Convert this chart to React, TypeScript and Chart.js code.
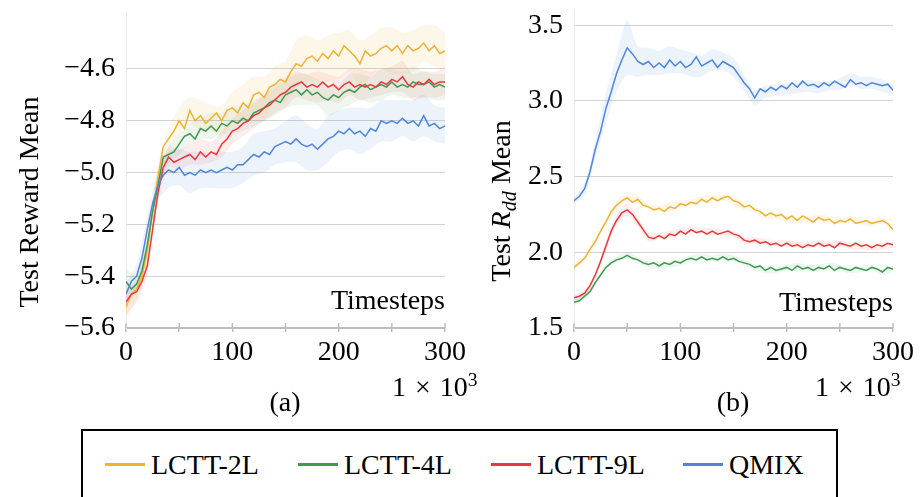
import React, { useEffect, useRef } from 'react';
import { Chart, registerables } from 'chart.js';
Chart.register(...registerables);

const FONT = "'Liberation Serif', 'Times New Roman', Times, serif";

const seriesNames = ['LCTT-2L', 'LCTT-4L', 'LCTT-9L', 'QMIX'];
const seriesColors = ['#F0B232', '#3E9A50', '#E63A3A', '#4F86DC'];
const bandColors = ['rgba(240,178,50,0.10)', 'rgba(62,154,80,0.09)', 'rgba(230,58,58,0.09)', 'rgba(79,134,220,0.10)'];

const timesteps = [0,5,10,15,20,25,30,35,40,45,50,55,60,65,70,75,80,85,90,95,100,105,110,115,120,125,130,135,140,145,150,155,160,165,170,175,180,185,190,195,200,205,210,215,220,225,230,235,240,245,250,255,260,265,270,275,280,285,290,295,300];
const bandSteps = [0,10,20,30,40,50,60,70,80,90,100,110,120,130,140,150,160,170,180,190,200,210,220,230,240,250,260,270,280,290,300];

const xTicks = [0,50,100,150,200,250,300];
const xTickLabels = ['0','','100','','200','','300'];
const rewardTicks = [-5.6,-5.4,-5.2,-5.0,-4.8,-4.6];
const rddTicks = [1.5,2.0,2.5,3.0,3.5];

// (a) Test Reward Mean
const reward2L = [-5.52,-5.47,-5.45,-5.40,-5.30,-5.15,-5.02,-4.90,-4.87,-4.84,
-4.80,-4.83,-4.76,-4.80,-4.78,-4.81,-4.79,-4.77,-4.80,-4.76,
-4.75,-4.77,-4.73,-4.75,-4.70,-4.69,-4.71,-4.67,-4.66,-4.64,
-4.65,-4.61,-4.58,-4.59,-4.56,-4.55,-4.57,-4.54,-4.56,-4.53,
-4.55,-4.51,-4.53,-4.55,-4.58,-4.53,-4.55,-4.54,-4.52,-4.51,
-4.53,-4.51,-4.54,-4.51,-4.53,-4.52,-4.50,-4.53,-4.51,-4.54,
-4.53];
const reward4L = [-5.42,-5.45,-5.43,-5.38,-5.28,-5.15,-5.05,-4.94,-4.93,-4.92,
-4.89,-4.86,-4.85,-4.87,-4.83,-4.84,-4.82,-4.84,-4.81,-4.82,
-4.80,-4.81,-4.79,-4.80,-4.77,-4.76,-4.75,-4.73,-4.72,-4.73,
-4.70,-4.69,-4.68,-4.70,-4.68,-4.70,-4.69,-4.71,-4.72,-4.70,
-4.71,-4.69,-4.68,-4.69,-4.67,-4.66,-4.68,-4.67,-4.66,-4.67,
-4.65,-4.67,-4.66,-4.67,-4.65,-4.66,-4.66,-4.65,-4.67,-4.66,
-4.67];
const reward9L = [-5.50,-5.47,-5.46,-5.42,-5.36,-5.22,-5.08,-4.98,-4.94,-4.96,
-4.95,-4.94,-4.93,-4.95,-4.92,-4.94,-4.92,-4.93,-4.89,-4.87,
-4.84,-4.83,-4.81,-4.80,-4.78,-4.77,-4.75,-4.74,-4.72,-4.70,
-4.69,-4.67,-4.66,-4.65,-4.67,-4.66,-4.67,-4.65,-4.67,-4.66,
-4.68,-4.66,-4.65,-4.67,-4.66,-4.67,-4.66,-4.67,-4.65,-4.66,
-4.64,-4.65,-4.63,-4.66,-4.67,-4.65,-4.66,-4.64,-4.66,-4.65,
-4.65];
const rewardQMIX = [-5.47,-5.42,-5.40,-5.33,-5.22,-5.12,-5.05,-5.01,-4.99,-5.00,
-4.98,-5.01,-5.00,-5.01,-4.99,-5.00,-4.99,-5.00,-4.99,-4.98,
-4.99,-4.97,-4.97,-4.95,-4.93,-4.94,-4.92,-4.93,-4.90,-4.89,
-4.88,-4.89,-4.87,-4.89,-4.90,-4.89,-4.91,-4.89,-4.87,-4.86,
-4.84,-4.85,-4.83,-4.85,-4.84,-4.86,-4.83,-4.84,-4.80,-4.81,
-4.80,-4.81,-4.79,-4.81,-4.80,-4.82,-4.78,-4.82,-4.81,-4.83,
-4.82];

const rewardBand2L = [0.04,0.04,0.04,0.05,0.04,0.05,0.05,0.06,0.05,0.06,0.06,0.07,0.07,0.08,0.07,0.08,0.09,0.09,0.08,0.09,0.09,0.08,0.09,0.08,0.08,0.09,0.08,0.08,0.07,0.08,0.07];
const rewardBand4L = [0.05,0.03,0.04,0.04,0.03,0.04,0.04,0.04,0.05,0.04,0.05,0.05,0.05,0.05,0.06,0.05,0.06,0.06,0.05,0.06,0.05,0.06,0.05,0.05,0.06,0.05,0.05,0.06,0.05,0.05,0.05];
const rewardBand9L = [0.05,0.04,0.04,0.04,0.04,0.04,0.04,0.05,0.04,0.05,0.05,0.05,0.05,0.05,0.05,0.06,0.05,0.05,0.06,0.05,0.05,0.05,0.06,0.05,0.05,0.05,0.06,0.05,0.05,0.05,0.05];
const rewardBandQMIX = [0.04,0.05,0.05,0.06,0.07,0.07,0.08,0.07,0.07,0.07,0.07,0.07,0.08,0.08,0.07,0.08,0.09,0.09,0.08,0.09,0.08,0.08,0.09,0.08,0.08,0.08,0.07,0.08,0.08,0.07,0.07];

// (b) Test R_dd Mean
const rdd2L = [1.90,1.93,1.96,2.02,2.07,2.14,2.20,2.27,2.31,2.34,
2.36,2.33,2.35,2.31,2.30,2.28,2.29,2.27,2.30,2.29,
2.32,2.31,2.33,2.32,2.35,2.33,2.36,2.34,2.36,2.37,
2.34,2.33,2.30,2.31,2.28,2.27,2.24,2.26,2.24,2.25,
2.22,2.24,2.21,2.24,2.22,2.20,2.23,2.21,2.22,2.19,
2.21,2.20,2.22,2.19,2.20,2.21,2.19,2.20,2.21,2.19,
2.15];
const rdd4L = [1.67,1.68,1.71,1.74,1.80,1.85,1.90,1.93,1.95,1.96,
1.98,1.96,1.95,1.93,1.92,1.93,1.91,1.93,1.92,1.94,
1.93,1.95,1.96,1.95,1.97,1.95,1.96,1.95,1.97,1.95,
1.96,1.94,1.93,1.92,1.90,1.91,1.88,1.90,1.88,1.89,
1.90,1.88,1.91,1.89,1.90,1.88,1.90,1.89,1.91,1.88,
1.90,1.89,1.88,1.90,1.89,1.88,1.90,1.89,1.87,1.90,
1.89];
const rdd9L = [1.70,1.71,1.73,1.78,1.85,1.94,2.04,2.14,2.21,2.26,
2.28,2.25,2.20,2.15,2.10,2.09,2.11,2.09,2.12,2.11,
2.14,2.12,2.15,2.13,2.14,2.12,2.14,2.12,2.13,2.14,
2.12,2.11,2.08,2.07,2.08,2.06,2.07,2.05,2.06,2.04,
2.06,2.04,2.05,2.03,2.05,2.04,2.06,2.04,2.05,2.03,
2.06,2.05,2.04,2.06,2.04,2.05,2.03,2.05,2.04,2.06,
2.05];
const rddQMIX = [2.34,2.37,2.42,2.53,2.68,2.80,2.95,3.06,3.18,3.27,
3.35,3.31,3.26,3.24,3.26,3.22,3.25,3.22,3.27,3.23,
3.26,3.22,3.24,3.29,3.23,3.25,3.27,3.22,3.26,3.24,
3.22,3.17,3.12,3.08,3.02,3.08,3.06,3.09,3.07,3.10,
3.08,3.12,3.09,3.13,3.10,3.11,3.09,3.12,3.10,3.13,
3.11,3.09,3.14,3.11,3.12,3.10,3.12,3.11,3.10,3.11,
3.07];

const rddBand2L = [0.02,0.02,0.02,0.02,0.03,0.03,0.02,0.02,0.02,0.03,0.02,0.02,0.02,0.02,0.02,0.03,0.02,0.02,0.02,0.02,0.02,0.02,0.02,0.02,0.02,0.02,0.02,0.02,0.02,0.02,0.02];
const rddBand4L = [0.02,0.02,0.02,0.02,0.02,0.02,0.02,0.02,0.02,0.02,0.02,0.02,0.02,0.02,0.02,0.02,0.02,0.02,0.02,0.02,0.02,0.02,0.02,0.02,0.02,0.02,0.02,0.02,0.02,0.02,0.02];
const rddBand9L = [0.02,0.02,0.02,0.03,0.03,0.04,0.03,0.03,0.02,0.02,0.02,0.02,0.02,0.02,0.02,0.02,0.02,0.02,0.02,0.02,0.02,0.02,0.02,0.02,0.02,0.02,0.02,0.02,0.02,0.02,0.02];
const rddBandQMIX = [0.02,0.04,0.06,0.10,0.12,0.18,0.10,0.09,0.08,0.09,0.08,0.08,0.07,0.07,0.06,0.06,0.05,0.05,0.04,0.04,0.04,0.04,0.04,0.04,0.03,0.04,0.04,0.04,0.04,0.04,0.03];

const tickUpPlugin = {
  id: 'tickUp',
  afterDatasetsDraw(chart: any) {
    const { ctx, chartArea, scales } = chart;
    const xs = scales.x;
    ctx.save();
    ctx.strokeStyle = '#BDBDBD';
    ctx.lineWidth = 1.5;
    xs.ticks.forEach((t: any) => {
      const px = xs.getPixelForValue(t.value);
      ctx.beginPath();
      ctx.moveTo(px, chartArea.bottom);
      ctx.lineTo(px, chartArea.bottom - 5);
      ctx.stroke();
    });
    ctx.restore();
  },
};

function buildConfig(p: {
  series: number[][]; bands: number[][]; yMin: number; yMax: number; yTicks: number[];
  fmt: (v: number) => string; yWidth: number; padTop: number; padRight: number;
}) {
  const lineOrder = [3, 2, 1, 0];
  const lines = p.series.map((s, i) => ({
    label: seriesNames[i],
    data: timesteps.map((x, k) => ({ x, y: s[k] })),
    borderColor: seriesColors[i],
    backgroundColor: seriesColors[i],
    borderWidth: 1.5,
    pointRadius: 0,
    tension: 0,
    fill: false,
    order: lineOrder[i],
  }));
  const bands: any[] = [];
  p.series.forEach((s, i) => {
    const w = p.bands[i];
    bands.push({
      label: seriesNames[i] + ' upper',
      data: bandSteps.map((x, k) => ({ x, y: s[k * 2] + w[k] })),
      borderWidth: 0, pointRadius: 0, tension: 0.3, fill: false,
      backgroundColor: bandColors[i], borderColor: 'rgba(0,0,0,0)', order: 10,
    });
    bands.push({
      label: seriesNames[i] + ' lower',
      data: bandSteps.map((x, k) => ({ x, y: s[k * 2] - w[k] })),
      borderWidth: 0, pointRadius: 0, tension: 0.3, fill: '-1',
      backgroundColor: bandColors[i], borderColor: 'rgba(0,0,0,0)', order: 10,
    });
  });
  const tickFont = { family: FONT, size: 28 };
  return {
    type: 'line',
    data: { datasets: [...lines, ...bands] },
    options: {
      animation: false,
      responsive: false,
      devicePixelRatio: 1,
      layout: { padding: { top: p.padTop, right: p.padRight, left: 0, bottom: 0 } },
      plugins: { legend: { display: false }, tooltip: { enabled: false } },
      scales: {
        x: {
          type: 'linear', min: 0, max: 300,
          afterBuildTicks: (s: any) => { s.ticks = xTicks.map((v) => ({ value: v })); },
          afterFit: (s: any) => { s.height = 44; s.paddingLeft = 0; s.paddingRight = 0; },
          ticks: {
            callback: (_v: any, i: number) => xTickLabels[i],
            font: tickFont, color: '#000', padding: 4, maxRotation: 0, autoSkip: false,
          },
          grid: { drawOnChartArea: false, drawTicks: true, tickLength: 4, color: '#BDBDBD', lineWidth: 1.5 },
          border: { display: true, color: '#BDBDBD', width: 2 },
        },
        y: {
          type: 'linear', min: p.yMin, max: p.yMax,
          afterBuildTicks: (s: any) => { s.ticks = p.yTicks.map((v) => ({ value: v })); },
          afterFit: (s: any) => { s.width = p.yWidth; s.paddingTop = 0; s.paddingBottom = 0; },
          ticks: { callback: (v: any) => p.fmt(Number(v)), font: tickFont, color: '#000', padding: 11 },
          grid: { color: '#D3D3D3', lineWidth: 1, drawTicks: false },
          border: { display: true, color: '#ECECEC', width: 1 },
        },
      },
    },
    plugins: [tickUpPlugin],
  };
}

function ChartCanvas(props: { make: () => any; left: number; top: number; width: number; height: number }) {
  const ref = useRef<HTMLCanvasElement>(null);
  useEffect(() => {
    const c = new Chart(ref.current as HTMLCanvasElement, props.make());
    return () => c.destroy();
  }, []);
  return (
    <canvas
      ref={ref}
      width={props.width}
      height={props.height}
      style={{ position: 'absolute', left: props.left, top: props.top, width: props.width, height: props.height }}
    />
  );
}

const fmtReward = (v: number) => (v < 0 ? '\u2212' : '') + Math.abs(v).toFixed(1);
const fmtRdd = (v: number) => v.toFixed(1);

const makeA = () => buildConfig({
  series: [reward2L, reward4L, reward9L, rewardQMIX],
  bands: [rewardBand2L, rewardBand4L, rewardBand9L, rewardBandQMIX],
  yMin: -5.6, yMax: -4.38, yTicks: rewardTicks, fmt: fmtReward,
  yWidth: 126, padTop: 12, padRight: 35,
});
const makeB = () => buildConfig({
  series: [rdd2L, rdd4L, rdd9L, rddQMIX],
  bands: [rddBand2L, rddBand4L, rddBand9L, rddBandQMIX],
  yMin: 1.5, yMax: 3.6, yTicks: rddTicks, fmt: fmtRdd,
  yWidth: 114, padTop: 10, padRight: 27,
});

const txt: React.CSSProperties = { position: 'absolute', fontFamily: FONT, fontSize: 28, lineHeight: '28px', color: '#000', whiteSpace: 'nowrap' };

function Times10() {
  return (
    <span>1<span style={{ margin: '0 9px' }}>×</span>10<span style={{ fontSize: '0.7em', position: 'relative', top: '-0.5em' }}>3</span></span>
  );
}

export default function App() {
  return (
    <div style={{ position: 'absolute', left: 0, top: 0, width: 920, height: 497, background: '#fff', overflow: 'hidden' }}>
      <ChartCanvas make={makeA} left={0} top={0} width={480} height={372} />
      <ChartCanvas make={makeB} left={460} top={0} width={460} height={372} />

      <div style={{ ...txt, left: -121, top: 188, width: 300, textAlign: 'center', transform: 'rotate(-90deg)' }}>Test Reward Mean</div>
      <div style={{ ...txt, left: 352, top: 186, width: 300, textAlign: 'center', transform: 'rotate(-90deg)' }}>
        Test <i>R</i><i style={{ fontSize: '0.72em', position: 'relative', top: '0.3em' }}>dd</i> Mean
      </div>

      <div style={{ ...txt, left: 245, top: 286, width: 200, textAlign: 'right' }}>Timesteps</div>
      <div style={{ ...txt, left: 693, top: 288, width: 200, textAlign: 'right' }}>Timesteps</div>

      <div style={{ ...txt, left: 392, top: 373 }}><Times10 /></div>
      <div style={{ ...txt, left: 815, top: 373 }}><Times10 /></div>

      <div style={{ ...txt, left: 235, top: 388, width: 100, textAlign: 'center' }}>(a)</div>
      <div style={{ ...txt, left: 683, top: 388, width: 100, textAlign: 'center' }}>(b)</div>

      <div style={{ position: 'absolute', left: 81, top: 429, width: 757, height: 100, border: '2.5px solid #000', boxSizing: 'border-box' }} />
      {seriesNames.map((n, i) => {
        const swatchLeft = [105, 298, 491, 683][i];
        return (
          <React.Fragment key={n}>
            <div style={{ position: 'absolute', left: swatchLeft, top: 463, width: 40, height: 3, background: seriesColors[i] }} />
            <div style={{ ...txt, left: swatchLeft + 46, top: 451 }}>{n}</div>
          </React.Fragment>
        );
      })}
    </div>
  );
}
